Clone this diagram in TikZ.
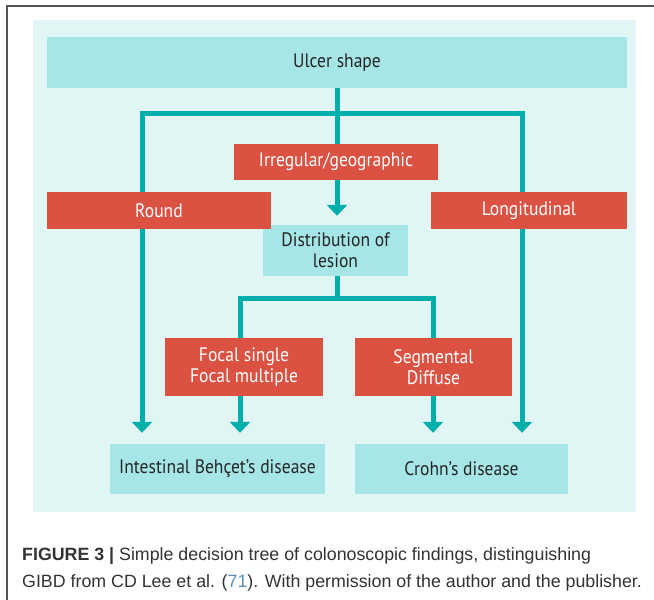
\documentclass[tikz,border=0pt]{standalone}
\usepackage{fontspec}
\setmainfont[FakeStretch=0.9]{PT Sans}
\newfontfamily\capfont{Liberation Sans}
\usetikzlibrary{arrows.meta}
\definecolor{panel}{HTML}{E1F5F5}
\definecolor{lteal}{HTML}{A6E6E6}
\definecolor{teal2}{HTML}{00AFAC}
\definecolor{redbox}{HTML}{DB5142}
\definecolor{frame}{HTML}{555555}
\definecolor{captxt}{HTML}{333333}
\definecolor{refblue}{HTML}{5B8DB8}
\tikzset{
  tealbox/.style={fill=lteal, draw=none, inner sep=0pt, align=center, font=\fontsize{19.5}{21}\selectfont, text=black!85},
  redb/.style={fill=redbox, draw=none, inner sep=0pt, align=center, font=\fontsize{19.5}{21}\selectfont, text=white},
  conn/.style={draw=teal2, line width=5pt},
  arr/.style={conn, -{Triangle[width=20pt,length=11pt]}, shorten >=11pt},
}
\begin{document}
\begin{tikzpicture}[x=1pt,y=-1pt]
\useasboundingbox (0,0) rectangle (654,600);
\fill[white] (0,0) rectangle (654,600);
% frame
\draw[frame, line width=1.5pt] (7,600) -- (7,6) -- (654,6);
% panel
\fill[panel] (33,20) rectangle (636,512);
% nodes
\node[tealbox, minimum width=580pt, minimum height=51pt] (ulcer) at (337,62.5) {Ulcer shape};
\node[redb, minimum width=204pt, minimum height=36pt] (irr) at (336,162) {Irregular/geographic};
\node[redb, minimum width=224pt, minimum height=37pt] (round) at (159,210.5) {Round};
\node[redb, minimum width=196pt, minimum height=37pt] (long) at (529,210.5) {Longitudinal};
\node[tealbox, minimum width=145pt, minimum height=51pt] (dist) at (335.5,250.5) {Distribution of\\lesion};
\node[redb, minimum width=158pt, minimum height=58pt] (focal) at (244,367) {Focal single\\Focal multiple};
\node[redb, minimum width=157pt, minimum height=58pt] (seg) at (433.5,367) {Segmental\\Diffuse};
\node[tealbox, minimum width=215pt, minimum height=50pt] (behcet) at (217.5,469) {Intestinal Behçet’s disease};
\node[tealbox, minimum width=213pt, minimum height=50pt] (crohn) at (461.5,469) {Crohn’s disease};
% junction coordinates
\coordinate (j0) at (337,113);
\coordinate (jL) at (142,113);
\coordinate (jR) at (522,113);
\coordinate (k0) at (337,298);
\coordinate (kL) at (240,298);
\coordinate (kR) at (433,298);
% connectors
\draw[conn] (ulcer.south -| j0) -- (j0);
\draw[conn, line cap=rect] (jL) -- (jR);
\draw[arr] (jL) -- (jL |- behcet.north);
\draw[arr] (jR) -- (jR |- crohn.north);
\draw[arr, shorten >=9pt] (j0) -- (j0 |- dist.north);
\draw[conn] (dist.south -| k0) -- (k0);
\draw[conn, line cap=rect] (kL) -- (kR);
\draw[arr] (kL) -- (kL |- behcet.north);
\draw[arr] (kR) -- (kR |- crohn.north);
% redraw boxes on top of the connectors
\node[redb, minimum width=204pt, minimum height=36pt] at (irr) {Irregular/geographic};
\node[redb, minimum width=224pt, minimum height=37pt] at (round) {Round};
\node[redb, minimum width=196pt, minimum height=37pt] at (long) {Longitudinal};
\node[redb, minimum width=158pt, minimum height=58pt] at (focal) {Focal single\\Focal multiple};
\node[redb, minimum width=157pt, minimum height=58pt] at (seg) {Segmental\\Diffuse};
% caption
\node[anchor=base west, inner sep=0pt, text=captxt, font=\capfont\fontsize{17.8}{20}\selectfont] (cap1) at (22,560) {\textbf{FIGURE 3 |} Simple decision tree of colonoscopic findings, distinguishing};
\node[anchor=base west, inner sep=0pt, text=captxt, font=\capfont\fontsize{17.8}{20}\selectfont] (cap2) at (22,587) {GIBD from CD Lee et al. (\textcolor{refblue}{71}). With permission of the author and the publisher.};
\end{tikzpicture}
\end{document}
